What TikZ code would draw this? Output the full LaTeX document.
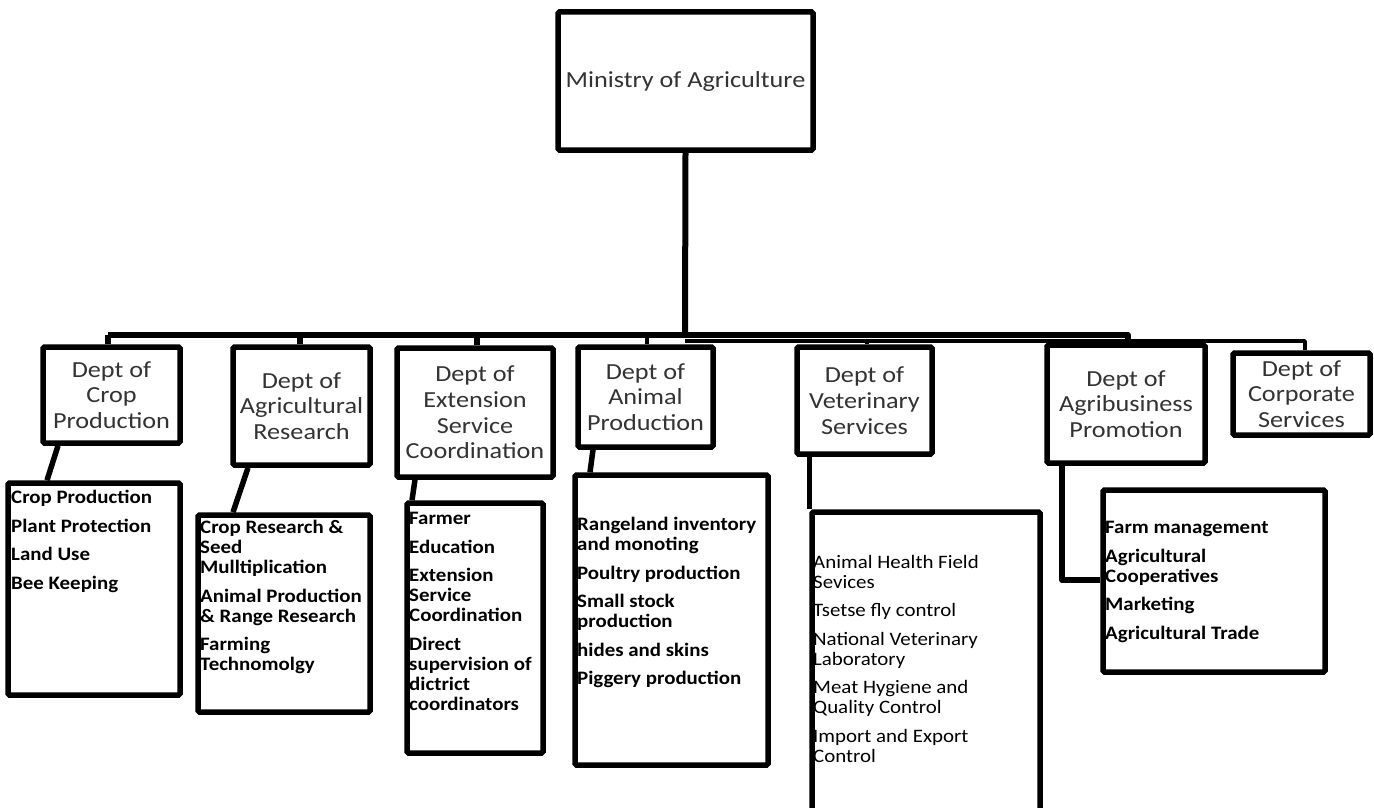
\documentclass[tikz,border=0pt]{standalone}
\usepackage{fontspec}
\newfontfamily\deptfont[FakeStretch=1.14]{Carlito}
\newfontfamily\listfont[FakeStretch=1.1]{Carlito}
\tikzset{
  box/.style={draw, line width=5.5pt, rounded corners=1.5pt, inner sep=0pt, fill=white},
  dept/.style={box, align=center, text=black!80, font=\deptfont\fontsize{23}{25.7}\selectfont},
  listtext/.style={anchor=north west, inner sep=0pt, align=left, font=\listfont\bfseries\fontsize{19}{20}\selectfont},
  listreg/.style={anchor=north west, inner sep=0pt, align=left, font=\listfont\fontsize{19}{20}\selectfont},
  conn/.style={line width=5.5pt, line join=round},
  thin/.style={line width=3.5pt, line join=round}
}
\begin{document}
\begin{tikzpicture}[x=1pt,y=-1pt]
\useasboundingbox[fill=white] (0,0) rectangle (1374,808);
% ministry
\node[dept, minimum width=255, minimum height=138] (min) at (685.5,81) {Ministry of Agriculture};
% departments
\node[dept, minimum width=137, minimum height=96]  (crop) at (111.5,395) {Dept of\\Crop\\Production};
\node[dept, minimum width=137, minimum height=118] (res)  at (301.5,406) {Dept of\\Agricultural\\Research};
\node[dept, minimum width=156, minimum height=129] (ext)  at (475,412.5) {Dept of\\Extension\\Service\\Coordination};
\node[dept, minimum width=135, minimum height=100] (ani)  at (645.5,397) {Dept of\\Animal\\Production};
\node[dept, minimum width=135, minimum height=107] (vet)  at (864.5,400.5) {Dept of\\Veterinary\\Services};
\node[dept, minimum width=158, minimum height=118] (agb)  at (1126,404) {Dept of\\Agribusiness\\Promotion};
\node[dept, minimum width=137, minimum height=82]  (corp) at (1301.5,394) {Dept of\\Corporate\\Services};
% bus
\coordinate (busA) at (685,335);
\coordinate (busAl) at (108,335);
\coordinate (busAr) at (1128,335);
\coordinate (busB) at (685,341);
\coordinate (busBr) at (1305,341);
\draw[conn, line width=6pt] (min.south) -- (busA);
\draw[conn] (busAl) -- (busAr) -- (1128,341);
\draw[thin] (busB) -- (busBr) -- (corp.north -| busBr);
\draw[conn] (busAl) -- (crop.north -| busAl);
\draw[conn] (300,335) -- (res.north -| 300,0);
\draw[conn] (477,335) -- (ext.north -| 477,0);
\draw[thin] (647,337) -- (ani.north -| 647,0);
\draw[thin] (867,341) -- (vet.north -| 867,0);
% list boxes
\node[box, minimum width=172, minimum height=212] (cropL) at (94,589) {};
\node[box, minimum width=172, minimum height=197] (resL)  at (284,613.5) {};
\node[box, minimum width=136, minimum height=250] (extL)  at (475,628) {};
\node[box, minimum width=193, minimum height=290] (aniL)  at (671.5,620) {};
\node[box, minimum width=228, minimum height=330] (vetL)  at (926,677) {};
\node[box, minimum width=222, minimum height=182] (agbL)  at (1214,581) {};
% connectors to lists
\draw[conn] (crop.south -| 58,0) -- (cropL.north -| 47,0);
\draw[conn] (res.south -| 248,0) -- (resL.north -| 233,0);
\draw[conn] (ext.south -| 415,0) -- (extL.north -| 412,0);
\draw[conn] (ani.south -| 593,0) -- (aniL.north -| 590,0);
\draw[conn] (vet.south -| vetL.west) -- (vetL.north west);
\draw[conn] (agb.south -| 1062,0) -- (1062,580) -- (agbL.west |- 0,580);
% list texts
\node[listtext] (cropT) at (11,490) {Crop Production\\[8.5pt]Plant Protection\\[8.5pt]Land Use\\[8.5pt]Bee Keeping};
\node[listtext] (resT) at (200,520) {Crop Research \&\\Seed\\Mulltiplication\\[8.5pt]Animal Production\\\& Range Research\\[8.5pt]Farming\\Technomolgy};
\node[listtext] (extT) at (409,512) {Farmer\\[8.5pt]Education\\[8.5pt]Extension\\Service\\Coordination\\[8.5pt]Direct\\supervision of\\dictrict\\coordinators};
\node[listtext] (aniT) at (577,517) {Rangeland inventory\\and monoting\\[8.5pt]Poultry production\\[8.5pt]Small stock\\production\\[8.5pt]hides and skins\\[8.5pt]Piggery production};
\node[listreg] (vetT) at (813,555) {Animal Health Field\\Sevices\\[8.5pt]Tsetse fly control\\[8.5pt]National Veterinary\\Laboratory\\[8.5pt]Meat Hygiene and\\Quality Control\\[8.5pt]Import and Export\\Control};
\node[listtext] (agbT) at (1105,521) {Farm management\\[8.5pt]Agricultural\\Cooperatives\\[8.5pt]Marketing\\[8.5pt]Agricultural Trade};
\end{tikzpicture}
\end{document}
